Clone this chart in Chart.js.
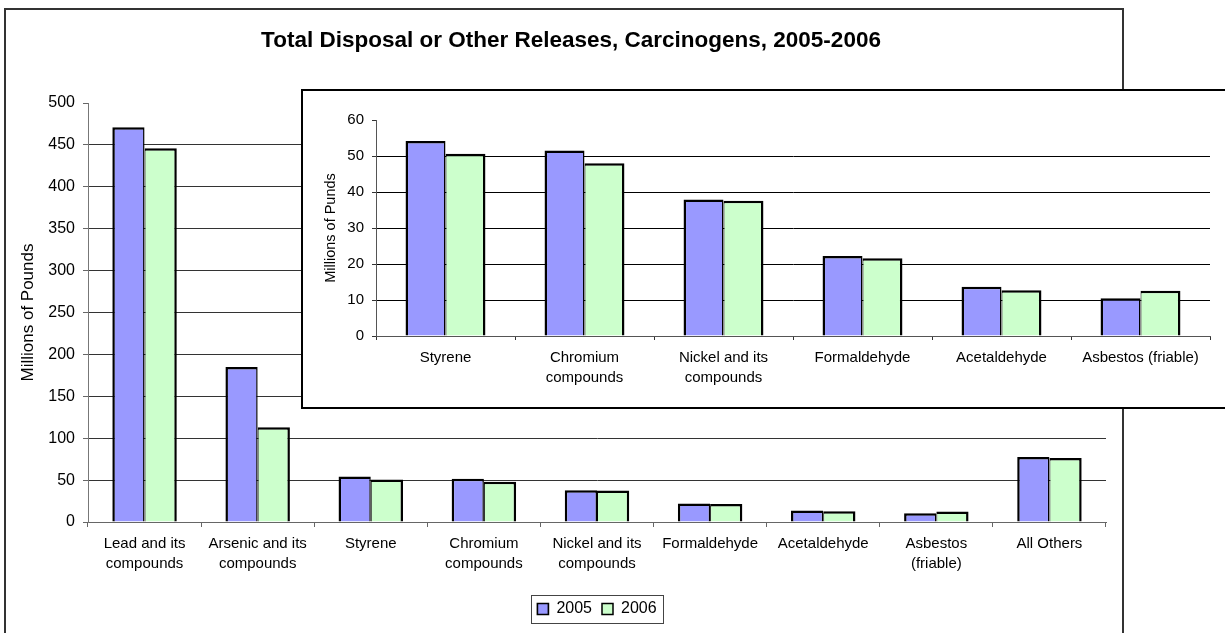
<!DOCTYPE html>
<html>
<head>
<meta charset="utf-8">
<title>Total Disposal or Other Releases, Carcinogens, 2005-2006</title>
<script src="https://cdn.jsdelivr.net/npm/chart.js@4.4.1/dist/chart.umd.min.js"></script>
<style>
  body { margin: 0; background: #fff; width: 1225px; height: 633px; overflow: hidden; position: relative; }
  #frame { position: absolute; left: 4px; top: 8px; width: 1120px; height: 700px; border: 2px solid #333; box-sizing: border-box; }
  #main { position: absolute; left: 5px; top: 9px; }
  #insetFrame { position: absolute; left: 301px; top: 89px; width: 1000px; height: 320px; border: 2px solid #000; box-sizing: border-box; background: #fff; }
  #inset { position: absolute; left: 302px; top: 90px; }
</style>
</head>
<body>
<div id="frame"></div>
<canvas id="main" width="1132" height="624"></canvas>
<div id="insetFrame"></div>
<canvas id="inset" width="923" height="316"></canvas>
<script>
// main chart data (millions of pounds)
const categories = [
    ['Lead and its', 'compounds'], ['Arsenic and its', 'compounds'], 'Styrene',
    ['Chromium', 'compounds'], ['Nickel and its', 'compounds'], 'Formaldehyde',
    'Acetaldehyde', ['Asbestos', '(friable)'], 'All Others'
];
const releases2005 = [471, 185, 54.2, 51.5, 37.9, 22.2, 13.7, 10.5, 77.5];
const releases2006 = [446, 113, 50.6, 48.0, 37.6, 21.6, 12.7, 12.6, 76.5];

// inset (zoomed) chart data
const insetCategories = [
    'Styrene', ['Chromium', 'compounds'], ['Nickel and its', 'compounds'],
    'Formaldehyde', 'Acetaldehyde', 'Asbestos (friable)'
];
const inset2005 = [54.2, 51.5, 37.9, 22.2, 13.7, 10.5];
const inset2006 = [50.6, 48.0, 37.6, 21.6, 12.7, 12.6];

const seriesLabels = ['2005', '2006'];
const color2005 = '#9999FF';
const color2006 = '#CCFFCC';
const fontFamily = '"Liberation Sans", Arial, sans-serif';

Chart.defaults.font.family = fontFamily;
Chart.defaults.color = '#000';

function makeDatasets(a, b) {
    return [{
        label: seriesLabels[0],
        data: a,
        backgroundColor: color2005,
        borderColor: '#000',
        borderWidth: { top: 2.5, left: 2.5, right: 1.5, bottom: 0 }
    }, {
        label: seriesLabels[1],
        data: b,
        backgroundColor: color2006,
        borderColor: '#000',
        borderWidth: { top: 2.5, left: 1, right: 2.5, bottom: 0 }
    }];
}

// hide the gridline at the top of the value axis, like the original
function gridColor(color, max) {
    return ctx => (ctx.tick && ctx.tick.value === max) ? 'rgba(0,0,0,0)' : color;
}

// draws the thin box around the legend
const legendFrame = {
    id: 'legendFrame',
    afterDraw(chart) {
        const hb = chart.legend && chart.legend.legendHitBoxes;
        if (!hb || !hb.length) return;
        const left = hb[0].left - 6;
        const last = hb[hb.length - 1];
        const right = last.left + last.width + 7;
        const top = hb[0].top - 6;
        const bottom = hb[0].top + hb[0].height + 6;
        const ctx = chart.ctx;
        ctx.save();
        ctx.strokeStyle = '#444';
        ctx.lineWidth = 1;
        ctx.strokeRect(Math.round(left) + 0.5, Math.round(top) + 0.5, Math.round(right - left), Math.round(bottom - top));
        ctx.restore();
    }
};

new Chart(document.getElementById('main'), {
    type: 'bar',
    data: { labels: categories, datasets: makeDatasets(releases2005, releases2006) },
    options: {
        responsive: false,
        animation: false,
        layout: { padding: { left: 0, top: 0, right: 0, bottom: 6 } },
        datasets: { bar: { categoryPercentage: 0.57, barPercentage: 1 } },
        plugins: {
            title: {
                display: true,
                text: 'Total Disposal or Other Releases, Carcinogens, 2005-2006',
                color: '#000',
                font: { size: 22.5, weight: 'bold' },
                padding: { top: 18, bottom: 49 }
            },
            legend: {
                position: 'bottom',
                fullSize: false,
                labels: { boxWidth: 11, boxHeight: 11, padding: 10, color: '#000', font: { size: 16 } }
            },
            tooltip: { enabled: false }
        },
        scales: {
            x: {
                afterFit: s => { s.height = 69; },
                grid: { display: true, drawOnChartArea: false, offset: true, tickLength: 5, color: '#666' },
                border: { display: true, color: '#666' },
                ticks: { autoSkip: false, maxRotation: 0, padding: 7, color: '#000', font: { size: 15, lineHeight: 1.33 } }
            },
            y: {
                min: 0,
                max: 500,
                afterFit: s => { s.width = 83; },
                ticks: { stepSize: 50, padding: 8, color: '#000', font: { size: 16 } },
                grid: { color: gridColor('#333', 500), tickColor: '#666', tickLength: 5 },
                border: { display: true, color: '#777' },
                title: {
                    display: true,
                    text: 'Millions of Pounds',
                    color: '#000',
                    font: { size: 17 },
                    padding: { top: 12.8, bottom: 0 }
                }
            },
            // empty spacer on the right so the title stays centred on the whole frame
            spacer: {
                type: 'linear',
                position: 'right',
                afterFit: s => { s.width = 31; },
                grid: { display: false },
                border: { display: false },
                ticks: { display: false }
            }
        }
    },
    plugins: [legendFrame]
});

new Chart(document.getElementById('inset'), {
    type: 'bar',
    data: { labels: insetCategories, datasets: makeDatasets(inset2005, inset2006) },
    options: {
        responsive: false,
        animation: false,
        layout: { padding: { left: 0, top: 30, right: 15, bottom: 0 } },
        datasets: { bar: { categoryPercentage: 0.575, barPercentage: 1 } },
        plugins: {
            legend: { display: false },
            tooltip: { enabled: false }
        },
        scales: {
            x: {
                afterFit: s => { s.height = 70; },
                grid: { display: true, drawOnChartArea: false, offset: true, tickLength: 4, color: '#333' },
                border: { display: true, color: '#555' },
                ticks: { autoSkip: false, maxRotation: 0, padding: 8, color: '#000', font: { size: 15, lineHeight: 1.33 } }
            },
            y: {
                min: 0,
                max: 60,
                afterFit: s => { s.width = 74; },
                ticks: { stepSize: 10, padding: 8, color: '#000', font: { size: 15 } },
                grid: { color: gridColor('#000', 60), tickColor: '#333', tickLength: 4 },
                border: { display: true, color: '#555' },
                title: {
                    display: true,
                    text: 'Millions of Punds',
                    color: '#000',
                    font: { size: 14.5 },
                    padding: { top: 20.6, bottom: 0 }
                }
            }
        }
    }
});
</script>
</body>
</html>
